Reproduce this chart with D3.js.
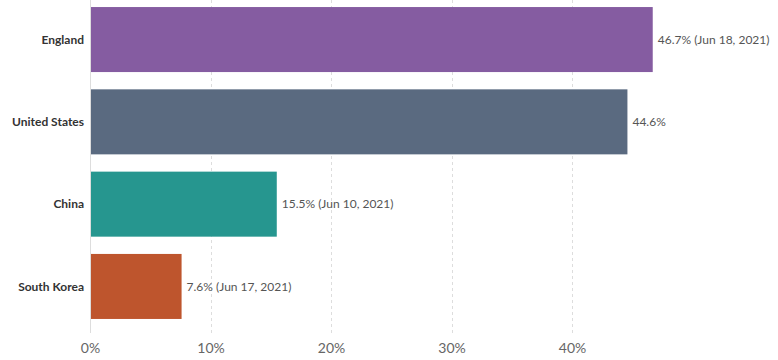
<!DOCTYPE html>
<html><head><meta charset="utf-8">
<script src="https://cdn.jsdelivr.net/npm/d3@7"></script>
<style>
html,body{margin:0;padding:0;background:#fff;}
text{font-family:Lato,"Noto Sans",sans-serif;}
</style></head>
<body><svg id="chart" width="778" height="360"></svg>
<script>
const categories = ["England", "United States", "China", "South Korea"];
const values = [46.7, 44.6, 15.5, 7.6];
const valueLabels = ["46.7% (Jun 18, 2021)", "44.6%", "15.5% (Jun 10, 2021)", "7.6% (Jun 17, 2021)"];
const colors = ["#855CA1", "#5A6A80", "#26968F", "#BE552D"];
const xTicks = [0, 10, 20, 30, 40];

const svg = d3.select("#chart");
const x = d3.scaleLinear().domain([0, 10]).range([90, 210.5]);
const y = d3.scaleBand().domain(categories).range([-1.6, 327.6]).paddingInner(0.21).paddingOuter(0.105);

// grid
const gridTop = 0, gridBottom = 333;
svg.append("g").selectAll("line").data(xTicks.filter(d => d > 0)).join("line")
  .attr("x1", d => Math.round(x(d)) + 0.5).attr("x2", d => Math.round(x(d)) + 0.5)
  .attr("y1", gridTop).attr("y2", gridBottom)
  .attr("stroke", "#ddd").attr("stroke-dasharray", "3,3");

svg.append("line").attr("x1", x(0) + 0.5).attr("x2", x(0) + 0.5)
  .attr("y1", gridTop).attr("y2", gridBottom).attr("stroke", "#ddd");

// bars
svg.append("g").selectAll("rect").data(categories).join("rect")
  .attr("x", x(0) + 1)
  .attr("y", d => y(d))
  .attr("width", (d, i) => x(values[i]) - x(0) - 1)
  .attr("height", y.bandwidth())
  .attr("fill", (d, i) => colors[i]);

// value labels
svg.append("g").selectAll("text").data(categories).join("text")
  .attr("x", (d, i) => x(values[i]) + 5)
  .attr("y", d => y(d) + y.bandwidth() / 2)
  .attr("dy", "0.35em")
  .attr("font-size", 12).attr("fill", "#555")
  .text((d, i) => valueLabels[i]);

// category labels
svg.append("g").selectAll("text").data(categories).join("text")
  .attr("x", 84)
  .attr("y", d => y(d) + y.bandwidth() / 2)
  .attr("dy", "0.35em")
  .attr("text-anchor", "end")
  .attr("font-size", 12).attr("font-weight", "bold").attr("fill", "#333")
  .text(d => d);

// x axis
const axis = d3.axisBottom(x).tickValues(xTicks).tickFormat(d => d + "%").tickSize(0).tickPadding(0);
const gx = svg.append("g").attr("transform", "translate(0,343)").call(axis);
gx.select(".domain").remove();
gx.selectAll("text").attr("font-size", 14).attr("fill", "#666").attr("dy", "0.71em")
  .style("font-family", "Lato, 'Noto Sans', sans-serif");
</script></body></html>
